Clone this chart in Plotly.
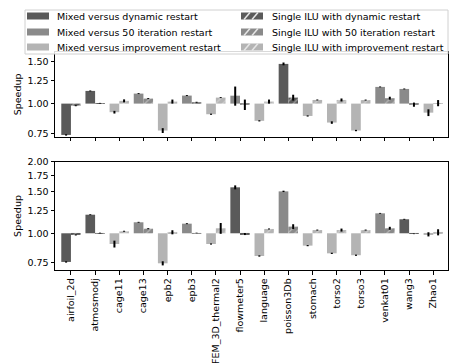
import math
import plotly.graph_objects as go
from plotly.subplots import make_subplots

matrices = ["airfoil_2d", "atmosmodj", "cage11", "cage13", "epb2", "epb3",
            "FEM_3D_thermal2", "flowmeter5", "language", "poisson3Db", "stomach",
            "torso2", "torso3", "venkat01", "wang3", "Zhao1"]

# restart used per matrix (0 = dynamic, 1 = 50 iteration, 2 = improvement)
restart_top = [0, 0, 2, 1, 2, 1, 2, 1, 2, 0, 2, 2, 2, 1, 1, 2]
restart_bottom = [0, 0, 2, 1, 2, 1, 2, 0, 2, 1, 2, 2, 2, 1, 0, 2]

# top panel
mixed_top = [0.738, 1.131, 0.920, 1.102, 0.770, 1.081, 0.902, 1.080, 0.846, 1.470, 0.887, 0.832, 0.770, 1.176, 1.153, 0.916]
mixed_top_err = [0.005, 0.005, 0.012, 0.005, 0.018, 0.005, 0.005, 0.10, 0.005, 0.02, 0.005, 0.01, 0.005, 0.005, 0.005, 0.03]
single_top = [0.980, 1.004, 1.027, 1.050, 1.020, 1.013, 1.060, 0.990, 1.020, 1.060, 1.036, 1.036, 1.035, 1.054, 0.990, 1.005]
single_top_err = [0.005, 0.003, 0.015, 0.005, 0.02, 0.005, 0.005, 0.05, 0.02, 0.03, 0.005, 0.015, 0.005, 0.015, 0.02, 0.03]

# bottom panel
mixed_bot = [0.757, 1.198, 0.901, 1.113, 0.747, 1.098, 0.901, 1.563, 0.802, 1.503, 0.887, 0.823, 0.808, 1.214, 1.146, 0.990]
mixed_bot_err = [0.005, 0.005, 0.03, 0.005, 0.015, 0.005, 0.005, 0.03, 0.005, 0.01, 0.005, 0.005, 0.005, 0.005, 0.005, 0.02]
single_bot = [0.984, 1.003, 1.020, 1.046, 1.010, 1.003, 1.050, 0.993, 1.043, 1.067, 1.032, 1.032, 1.032, 1.050, 0.995, 1.010]
single_bot_err = [0.005, 0.003, 0.005, 0.005, 0.02, 0.003, 0.055, 0.01, 0.005, 0.025, 0.005, 0.015, 0.005, 0.015, 0.003, 0.03]

restarts = ["dynamic", "50 iteration", "improvement"]
colors = ["#5a5a5a", "#8a8a8a", "#b4b4b4"]

fig = make_subplots(rows=2, cols=1, vertical_spacing=0.115, row_heights=[0.44, 0.56])

xs = list(range(len(matrices)))
hatch = dict(shape="/", fgcolor="#e6e6e6", size=5, solidity=0.25)


def add_panel(row, restart, mixed, mixed_err, single, single_err):
    for k in range(3):
        for is_single in (False, True):
            vals = single if is_single else mixed
            errs = single_err if is_single else mixed_err
            sel = [i for i in xs if restart[i] == k]
            name = ("Single ILU with " if is_single else "Mixed versus ") + restarts[k] + " restart"
            marker = dict(color=colors[k], line=dict(width=0))
            if is_single:
                marker["pattern"] = hatch
            fig.add_trace(go.Bar(
                x=sel,
                y=[vals[i] - 1 for i in sel],
                base=[1] * len(sel),
                width=0.4,
                offset=0 if is_single else -0.4,
                marker=marker,
                error_y=dict(type="data", array=[errs[i] for i in sel],
                             color="black", thickness=2, width=0),
                name=name,
                showlegend=False,
            ), row=row, col=1)


add_panel(1, restart_top, mixed_top, mixed_top_err, single_top, single_top_err)
add_panel(2, restart_bottom, mixed_bot, mixed_bot_err, single_bot, single_bot_err)

font = dict(family="DejaVu Sans", size=9.5, color="black")
axis_style = dict(showline=True, linecolor="black", linewidth=1, mirror=True,
                  ticks="outside", ticklen=3.5, tickcolor="black", showgrid=False,
                  zeroline=False, tickfont=font)

fig.update_xaxes(range=[-0.66, 15.61], tickvals=xs, **axis_style)
fig.update_xaxes(showticklabels=False, row=1, col=1)
fig.update_xaxes(ticktext=matrices, tickangle=-90, row=2, col=1)

fig.update_yaxes(type="log", title=dict(text="Speedup", font=font, standoff=4), **axis_style)
fig.update_yaxes(range=[math.log10(0.724), math.log10(1.65)],
                 tickvals=[0.75, 1.0, 1.25, 1.5], ticktext=["0.75", "1.00", "1.25", "1.50"],
                 row=1, col=1)
fig.update_yaxes(range=[math.log10(0.70), math.log10(2.0)],
                 tickvals=[0.75, 1.0, 1.25, 1.5, 1.75, 2.0],
                 ticktext=["0.75", "1.00", "1.25", "1.50", "1.75", "2.00"],
                 row=2, col=1)


# legend drawn by hand (plotly rows are too tall for the matplotlib look)
# page has an 8px body margin, positions below are in window pixels
def px(sx):
    return (sx - 55) / 393


def py(sy):
    return (270 - sy) / 218


fig.add_shape(type="rect", xref="paper", yref="paper", x0=px(25), x1=px(448), y0=py(54), y1=py(10),
              line=dict(color="#d0d0d0", width=1), fillcolor="rgba(255,255,255,0.85)", layer="above")
row_y = [16, 32, 47]
col_sw = [27, 241]
col_tx = [55, 269.5]
for k in range(3):
    for c in range(2):
        name = ("Single ILU with " if c else "Mixed versus ") + restarts[k] + " restart"
        x0, yc = col_sw[c], row_y[k]
        fig.add_shape(type="rect", xref="paper", yref="paper", x0=px(x0), x1=px(x0 + 22),
                      y0=py(yc + 3.5), y1=py(yc - 3.5), line=dict(width=0),
                      fillcolor=colors[k], layer="above")
        if c:
            for off in (6, 14):
                fig.add_shape(type="line", xref="paper", yref="paper",
                              x0=px(x0 + off - 3), y0=py(yc + 3.5), x1=px(x0 + off + 3), y1=py(yc - 3.5),
                              line=dict(color="#e6e6e6", width=1.5), layer="above")
        fig.add_annotation(text=name, xref="paper", yref="paper", x=px(col_tx[c]), y=py(yc),
                           xanchor="left", yanchor="middle", showarrow=False, font=font)

fig.update_layout(
    width=451, height=356,
    margin=dict(l=47, r=11, t=44, b=94, autoexpand=False),
    plot_bgcolor="white", paper_bgcolor="white",
    font=font,
    barmode="overlay",
    showlegend=False,
)

fig.write_html("out.html")
